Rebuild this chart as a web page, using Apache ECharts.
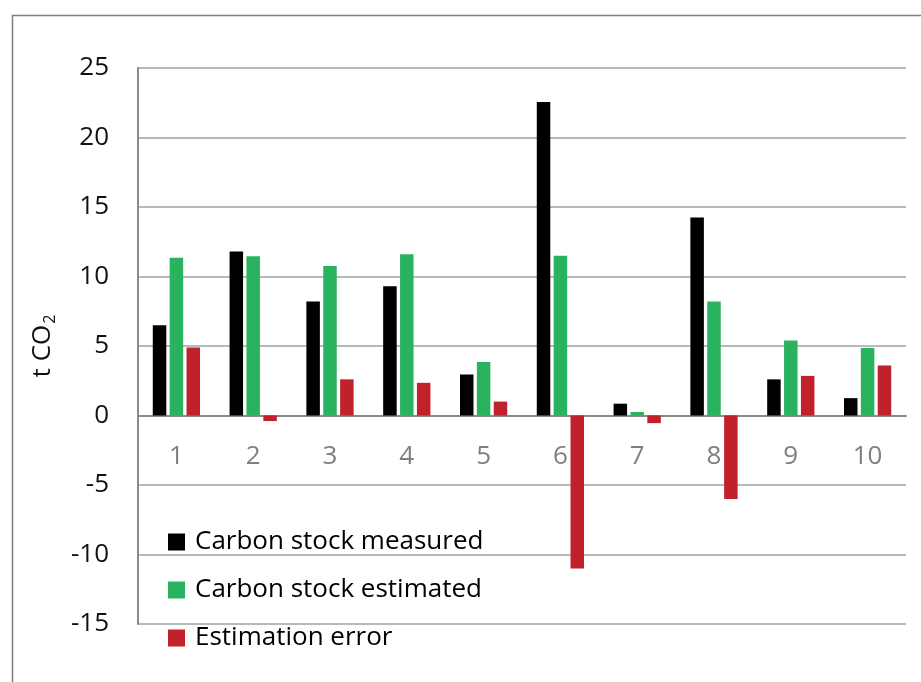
<!DOCTYPE html>
<html>
<head>
<meta charset="utf-8">
<script src="https://cdn.jsdelivr.net/npm/echarts@6/dist/echarts.min.js"></script>
<style>
  html, body { margin: 0; padding: 0; background: #fff; }
  #chart { width: 921px; height: 682px; }
</style>
</head>
<body>
<div id="chart"></div>
<script>
// Plot numbers 1-10
const categories = ['1', '2', '3', '4', '5', '6', '7', '8', '9', '10'];
const measured = [6.5, 11.8, 8.2, 9.3, 2.95, 22.55, 0.85, 14.25, 2.6, 1.25];
const estimated = [11.35, 11.45, 10.75, 11.6, 3.85, 11.5, 0.25, 8.2, 5.4, 4.85];
const estimationError = [4.9, -0.4, 2.6, 2.35, 1.0, -11.0, -0.55, -6.0, 2.85, 3.6];
const seriesNames = ['Carbon stock measured', 'Carbon stock estimated', 'Estimation error'];
const yTicks = { min: -15, max: 25, interval: 5 };

const FONT = '"Open Sans", "Noto Sans", sans-serif';
const colors = ['#000000', '#2ab35f', '#c1212a'];

const chart = echarts.init(document.getElementById('chart'), null, { renderer: 'canvas' });

const seriesData = [measured, estimated, estimationError];

chart.setOption({
  animation: false,
  backgroundColor: '#ffffff',
  textStyle: { fontFamily: FONT },
  graphic: [{
    type: 'rect',
    left: 10, top: 13,
    shape: { width: 1000, height: 1000 },
    style: { fill: 'none', stroke: '#7f7f7f', lineWidth: 1.5 },
    silent: true
  }],
  grid: { left: 138, right: 15, top: 68, bottom: 58 },
  legend: {
    orient: 'vertical',
    left: 163,
    top: 524,
    itemWidth: 17,
    itemHeight: 17,
    itemGap: 22,
    icon: 'rect',
    data: seriesNames,
    textStyle: {
      fontFamily: FONT, fontSize: 26, color: '#000', lineHeight: 26,
      padding: [0, 0, 0, 5]
    }
  },
  xAxis: {
    type: 'category',
    data: categories,
    axisLine: { onZero: true, lineStyle: { color: '#8a8a8a', width: 2 } },
    axisTick: { show: false },
    // category numbers sit just under the zero line
    axisLabel: { color: '#7f7f7f', fontSize: 26, fontFamily: FONT, margin: -180 },
    splitLine: { show: false }
  },
  yAxis: {
    type: 'value',
    min: yTicks.min,
    max: yTicks.max,
    interval: yTicks.interval,
    name: '{b|t CO}{s|2}',
    nameLocation: 'middle',
    nameRotate: 90,
    nameGap: 80,
    nameTextStyle: {
      rich: {
        b: { fontSize: 26, fontFamily: FONT, color: '#111', lineHeight: 30 },
        s: { fontSize: 16, fontFamily: FONT, color: '#111', lineHeight: 30, verticalAlign: 'bottom', padding: [10, 0, 0, 1] }
      }
    },
    axisLine: { show: true, lineStyle: { color: '#8a8a8a', width: 2 } },
    axisTick: { show: false },
    axisLabel: { color: '#111', fontSize: 26, fontFamily: FONT, margin: 29 },
    splitLine: { show: true, lineStyle: { color: '#b8b8b8', width: 2 } }
  },
  series: seriesNames.map((name, i) => ({
    name,
    type: 'bar',
    data: seriesData[i],
    barWidth: 13.5,
    barGap: '25%',
    itemStyle: { color: colors[i] }
  }))
});
</script>
</body>
</html>
